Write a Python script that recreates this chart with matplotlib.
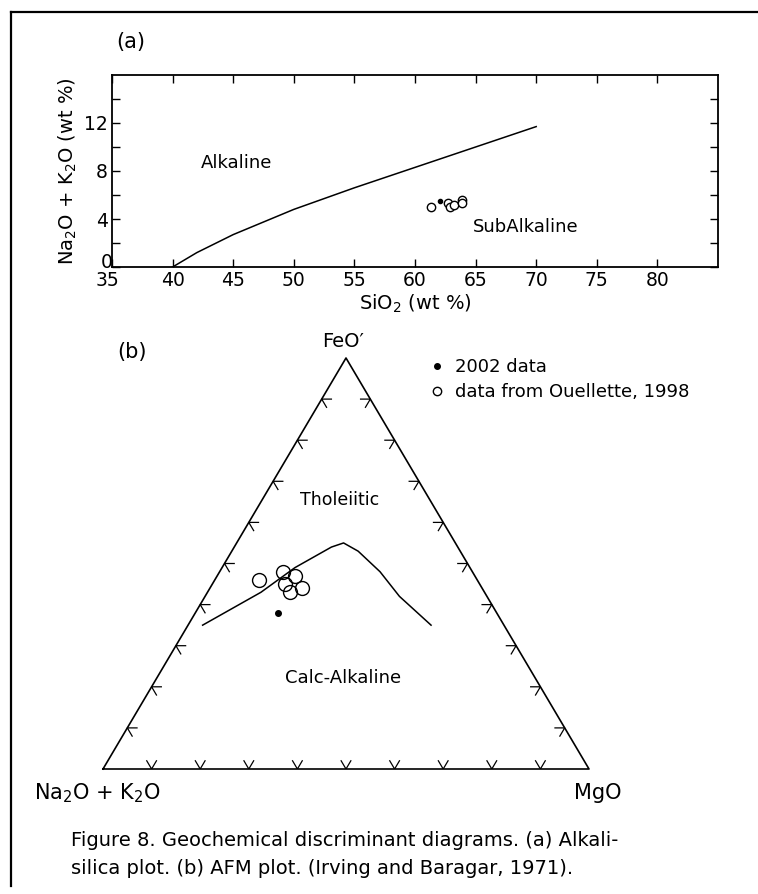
import numpy as np
import matplotlib
matplotlib.use("Agg")
import matplotlib.pyplot as plt
import matplotlib.transforms as mtransforms
from matplotlib.lines import Line2D

# ------------------------------------------------------------------
# (a) Alkali-silica data
# ------------------------------------------------------------------
boundary_sio2 = [40, 42, 45, 50, 55, 60, 65, 70]
boundary_alk = [0.0, 1.2, 2.7, 4.8, 6.6, 8.3, 10.0, 11.7]

sio2_2002 = [62.1]
alk_2002 = [5.5]

sio2_ouel = [61.3, 62.7, 62.9, 63.25, 63.9, 63.9]
alk_ouel = [5.0, 5.3, 5.0, 5.2, 5.6, 5.3]

# ------------------------------------------------------------------
# (b) AFM data (A = Na2O+K2O, F = FeO', M = MgO, in %)
# ------------------------------------------------------------------
afm_line_A = [62, 54, 46, 36, 26, 23, 21, 19, 18, 15]
afm_line_F = [35, 39, 43, 49, 54, 55, 53, 48, 42, 35]
afm_line_M = [3, 7, 11, 15, 20, 22, 26, 33, 40, 50]

afm_2002_A = [45]
afm_2002_F = [38]
afm_2002_M = [17]

afm_ouel_A = [45, 39, 37, 40, 37, 40]
afm_ouel_F = [46, 48, 47, 45, 44, 43]
afm_ouel_M = [9, 13, 16, 15, 19, 17]

H = np.sqrt(3) / 2


def tern(A, F, M):
    A, F, M = (np.asarray(v, float) for v in (A, F, M))
    tot = A + F + M
    return (M + F / 2) / tot, F / tot * H


W, HT = 758, 894
fig = plt.figure(figsize=(W / 100, HT / 100), dpi=100)

# outer frame (left + top rule of the scanned page)
fig.add_artist(Line2D([11 / W, 11 / W], [1 - 12 / HT, 1 - 886 / HT],
                      transform=fig.transFigure, color="black", lw=1.6))
fig.add_artist(Line2D([11 / W, 1], [1 - 12 / HT, 1 - 12 / HT],
                      transform=fig.transFigure, color="black", lw=1.6))

# ------------------------------------------------------------------
# panel (a)
# ------------------------------------------------------------------
ax = fig.add_axes([112 / W, 1 - 267 / HT, 606 / W, 192 / HT])
ax.plot(boundary_sio2, boundary_alk, color="black", lw=1.1)
ax.plot(sio2_ouel, alk_ouel, "o", mfc="white", mec="black", ms=6, mew=1.0)
ax.plot(sio2_2002, alk_2002, "o", color="black", ms=3)
ax.set_xlim(35, 85)
ax.set_ylim(0, 16)
ax.set_xticks(np.arange(35, 85, 5))
ax.set_yticks([0, 4, 8, 12])
ax.set_yticks([2, 6, 10, 14], minor=True)
ax.tick_params(direction="in", length=6, width=1.0, labelsize=13.5,
               top=True, right=True, labeltop=False, labelright=False, pad=3)
ax.tick_params(which="minor", direction="in", length=6, width=1.0,
               right=True, left=True)
for s in ax.spines.values():
    s.set_linewidth(1.3)

# the "0" sits tucked up into the corner, "35" nudged left
lab0 = ax.get_yticklabels()[0]
lab0.set_transform(lab0.get_transform() +
                   mtransforms.ScaledTranslation(5 / 100, 7 / 100, fig.dpi_scale_trans))
lab35 = ax.get_xticklabels()[0]
lab35.set_transform(lab35.get_transform() +
                    mtransforms.ScaledTranslation(-5 / 100, 0, fig.dpi_scale_trans))

ax.set_xlabel("SiO$_2$ (wt %)", fontsize=14, labelpad=2)
ax.set_ylabel("Na$_2$O + K$_2$O (wt %)", fontsize=14, labelpad=4)
ax.text(45.3, 8.7, "Alkaline", fontsize=13, ha="center", va="center")
ax.text(69.1, 3.3, "SubAlkaline", fontsize=13, ha="center", va="center")
ax.text(0.031, 1.17, "(a)", transform=ax.transAxes, fontsize=15,
        ha="center", va="center")

# ------------------------------------------------------------------
# panel (b) AFM ternary
# ------------------------------------------------------------------
bx = fig.add_axes([103 / W, 1 - 769 / HT, 486 / W, 411 / HT])
bx.set_xlim(0, 1)
bx.set_ylim(0, H)
bx.axis("off")

bx.plot([0, 1, 0.5, 0], [0, 0, H, 0], color="black", lw=1.2, clip_on=False)

# edge ticks every 10 %
L = 0.02
c60, s60 = 0.5, H
for t in np.arange(0.1, 0.95, 0.1):
    # left edge (A-F)
    px, py = t / 2, t * H
    bx.plot([px + L, px, px + L * c60], [py, py, py - L * s60],
            color="black", lw=0.9)
    # right edge (F-M)
    px, py = 1 - t / 2, t * H
    bx.plot([px - L, px, px - L * c60], [py, py, py - L * s60],
            color="black", lw=0.9)
    # bottom edge (A-M)
    px = t
    bx.plot([px - L * c60, px, px + L * c60], [L * s60, 0, L * s60],
            color="black", lw=0.9)

lx, ly = tern(afm_line_A, afm_line_F, afm_line_M)
bx.plot(lx, ly, color="black", lw=1.1)

ox, oy = tern(afm_ouel_A, afm_ouel_F, afm_ouel_M)
bx.plot(ox, oy, "o", mfc="none", mec="black", ms=10, mew=1.0)
dx, dy = tern(afm_2002_A, afm_2002_F, afm_2002_M)
bx.plot(dx, dy, "o", color="black", ms=4)

bx.text(0.494, 1.039 * H, "FeO\u2032", fontsize=14, ha="center", va="center")
bx.text(0.060, 1.015 * H, "(b)", fontsize=15, ha="center", va="center")
bx.text(0.486, 0.654 * H, "Tholeiitic", fontsize=12.5, ha="center", va="center")
bx.text(0.494, 0.221 * H, "Calc-Alkaline", fontsize=13, ha="center", va="center")
bx.text(-0.012, -0.058 * H, "Na$_2$O + K$_2$O", fontsize=15, ha="center", va="center")
bx.text(1.018, -0.058 * H, "MgO", fontsize=15, ha="center", va="center")

handles = [Line2D([], [], ls="none", marker="o", color="black", ms=4),
           Line2D([], [], ls="none", marker="o", mfc="none", mec="black", ms=6)]
bx.legend(handles, ["2002 data", "data from Ouellette, 1998"],
          loc="upper left", bbox_to_anchor=(0.672, 1.0), frameon=False,
          fontsize=13, handlelength=0.8, handletextpad=0.6,
          labelspacing=0.4, borderpad=0, borderaxespad=0)

# ------------------------------------------------------------------
# caption
# ------------------------------------------------------------------
fig.text(71 / W, 1 - 840 / HT,
         "Figure 8. Geochemical discriminant diagrams. (a) Alkali-",
         fontsize=14, ha="left", va="center")
fig.text(71 / W, 1 - 868 / HT,
         "silica plot. (b) AFM plot. (Irving and Baragar, 1971).",
         fontsize=14, ha="left", va="center")

fig.savefig("out.png", dpi=100)
